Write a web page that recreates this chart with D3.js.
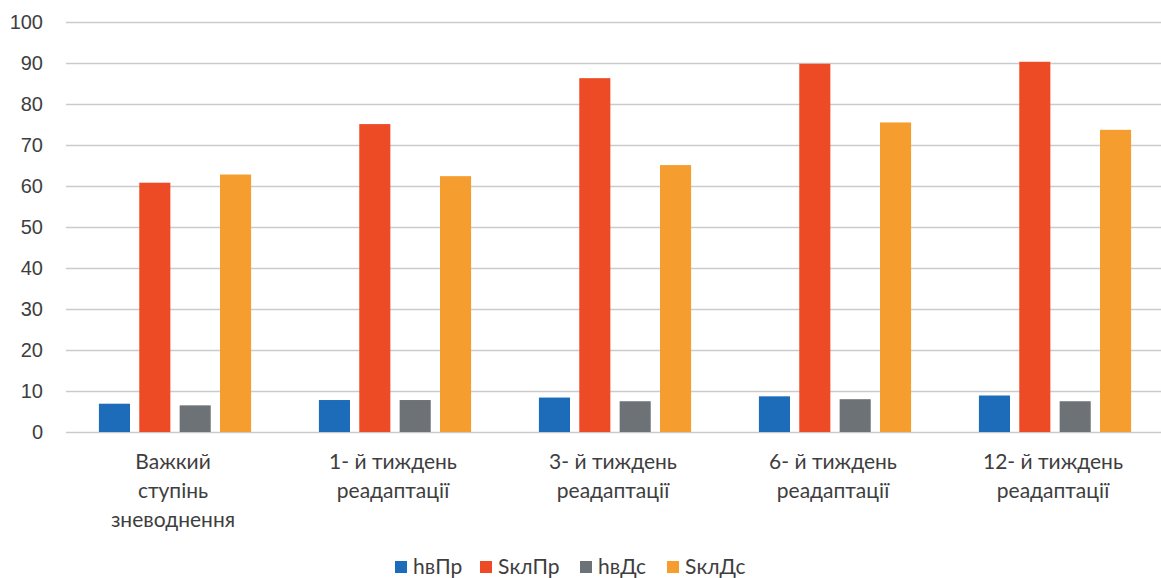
<!DOCTYPE html>
<html>
<head>
<meta charset="utf-8">
<script src="https://cdn.jsdelivr.net/npm/d3@7"></script>
<style>
  body { margin: 0; background: #fff; }
  svg { display: block; font-family: Lato, "Open Sans", sans-serif; }
</style>
</head>
<body>
<div id="chart"></div>
<script>
const categories = [
  ['Важкий', 'ступінь', 'зневоднення'],
  ['1- й тиждень', 'реадаптації'],
  ['3- й тиждень', 'реадаптації'],
  ['6- й тиждень', 'реадаптації'],
  ['12- й тиждень', 'реадаптації']
];
const series = ['hвПр', 'SклПр', 'hвДс', 'SклДс'];
const hvPr  = [6.9, 7.8, 8.4, 8.7, 8.9];
const sklPr = [60.8, 75.1, 86.3, 89.8, 90.3];
const hvDs  = [6.5, 7.8, 7.5, 8.0, 7.5];
const sklDs = [62.8, 62.4, 65.1, 75.5, 73.7];
const yTicks = [0, 10, 20, 30, 40, 50, 60, 70, 80, 90, 100];
const colors = ['#1c6cb9', '#ec4b25', '#6c7275', '#f59e2f'];

const values = [hvPr, sklPr, hvDs, sklDs];
const data = categories.map((c, i) => ({
  key: i,
  label: c,
  vals: series.map((s, j) => ({series: s, value: values[j][i]}))
}));

const width = 1161, height = 578;
const svg = d3.select('#chart')
  .append('svg')
    .attr('width', width)
    .attr('height', height);

// scales
const x0 = d3.scaleBand()
  .domain(data.map(d => d.key))
  .range([65, 1165])
  .padding(0);
const x1 = d3.scaleBand()
  .domain(series)
  .range([0, x0.bandwidth()])
  .paddingInner(0.23)
  .paddingOuter(0.84);
const y = d3.scaleLinear()
  .domain([0, 100])
  .range([432, 22]);
const color = d3.scaleOrdinal().domain(series).range(colors);

// gridlines + y labels
const yAxis = svg.append('g')
  .attr('transform', 'translate(66,0)')
  .call(d3.axisLeft(y).tickValues(yTicks).tickSize(-(width - 66)).tickPadding(23));
yAxis.select('.domain').remove();
yAxis.selectAll('.tick line').attr('stroke', '#cbcbcb').attr('stroke-width', 1.3);
yAxis.selectAll('.tick text')
  .attr('fill', '#3e3e3e')
  .style('font-size', '20px');

// bars
svg.append('g')
  .selectAll('g')
  .data(data)
  .join('g')
    .attr('transform', d => `translate(${x0(d.key)},0)`)
  .selectAll('rect')
  .data(d => d.vals)
  .join('rect')
    .attr('x', d => x1(d.series))
    .attr('y', d => y(d.value))
    .attr('width', x1.bandwidth())
    .attr('height', d => y(0) - y(d.value))
    .attr('fill', d => color(d.series));

// category labels
const xl = svg.append('g')
  .selectAll('text')
  .data(data)
  .join('text')
    .attr('x', d => x0(d.key) + x0.bandwidth() / 2 - 2)
    .attr('y', 469)
    .attr('text-anchor', 'middle')
    .attr('fill', '#3e3e3e')
    .style('font-size', '21px');
xl.selectAll('tspan')
  .data(d => d.label)
  .join('tspan')
    .attr('x', function() { return d3.select(this.parentNode).attr('x'); })
    .attr('dy', (_, i) => i === 0 ? 0 : 29)
    .text(d => d);

// legend
const legendX = [395, 480, 580, 667];
const legend = svg.append('g')
  .selectAll('g')
  .data(series)
  .join('g')
    .attr('transform', (_, i) => `translate(${legendX[i]},561)`);
legend.append('rect')
  .attr('width', 12)
  .attr('height', 12)
  .attr('fill', d => color(d));
legend.append('text')
  .attr('x', 18)
  .attr('y', 13)
  .attr('fill', '#3e3e3e')
  .style('font-size', '21px')
  .text(d => d);
</script>
</body>
</html>
